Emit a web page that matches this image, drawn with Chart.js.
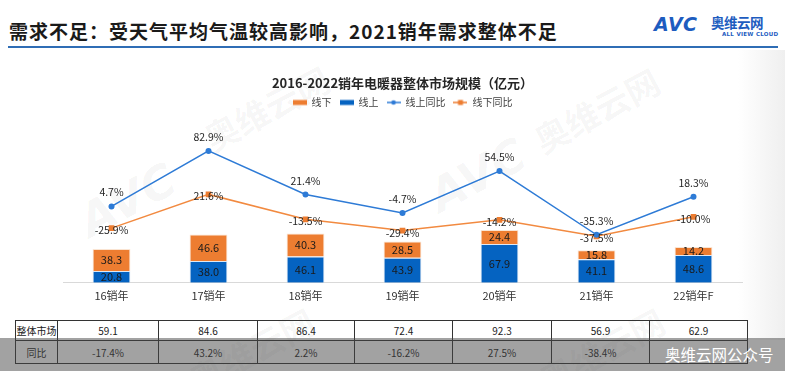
<!DOCTYPE html>
<html><head><meta charset="utf-8">
<script src="https://cdn.jsdelivr.net/npm/chart.js@4.4.1/dist/chart.umd.min.js"></script>
<style>
html,body{margin:0;padding:0;background:#fff;}
body{width:785px;height:371px;position:relative;overflow:hidden;font-family:"Noto Sans CJK SC","Noto Sans",sans-serif;}
#title{position:absolute;left:9px;top:17px;font-size:19px;font-weight:bold;color:#1a1a1a;white-space:nowrap;line-height:28px;letter-spacing:1px;}
#rule{position:absolute;left:8px;top:46px;width:770px;height:2px;background:#2f6db5;}
#logoA{position:absolute;left:654px;top:13px;font-family:"DejaVu Sans",sans-serif;font-size:19px;font-weight:bold;font-style:italic;color:#1d5cbf;letter-spacing:0.5px;line-height:22px;}
#logoB{position:absolute;left:711px;top:13px;font-size:13.5px;font-weight:bold;color:#1d5cbf;line-height:18px;letter-spacing:-0.5px;}
#logoC{position:absolute;left:722px;top:31px;font-family:"DejaVu Sans",sans-serif;font-size:5.5px;font-weight:bold;color:#1d5cbf;letter-spacing:0.3px;}
#edge{position:absolute;left:738px;top:50px;width:47px;height:290px;background:linear-gradient(to right,rgba(242,242,242,0),#efefef);}
#wrap{position:absolute;left:0;top:56px;width:785px;height:252px;}
table{position:absolute;left:15px;top:320px;border-collapse:collapse;font-size:10px;color:#222;table-layout:fixed;}
td{border:1px solid #333;text-align:center;padding:0;white-space:nowrap;}
tr.r1 td{height:19px;}
tr.r2 td{height:22px;}
#band{position:absolute;left:0;top:338px;width:785px;height:33px;background:rgba(70,70,70,0.5);}
#band span{position:absolute;left:665px;top:5px;font-size:15.5px;color:#fff;white-space:nowrap;}
.wm{position:absolute;color:rgba(0,0,0,0.045);white-space:nowrap;font-weight:bold;transform-origin:left top;}
</style></head>
<body>
<div class="wm" style="left:70px;top:200px;font-size:46px;font-family:'DejaVu Sans';font-style:italic;transform:rotate(-28deg);">AVC</div>
<div class="wm" style="left:420px;top:175px;font-size:46px;font-family:'DejaVu Sans';font-style:italic;transform:rotate(-28deg);">AVC</div>
<div class="wm" style="left:525px;top:120px;font-size:34px;transform:rotate(-28deg);">奥维云网</div>
<div class="wm" style="left:195px;top:118px;font-size:34px;transform:rotate(-28deg);">奥维云网</div>
<div class="wm" style="left:180px;top:360px;font-size:34px;transform:rotate(-28deg);">奥维云网</div>
<div class="wm" style="left:530px;top:360px;font-size:34px;transform:rotate(-28deg);">奥维云网</div>
<div id="title">需求不足：受天气平均气温较高影响，2021销年需求整体不足</div>
<div id="rule"></div>
<div id="logoA">AVC</div>
<div id="logoB">奥维云网</div>
<div id="logoC">ALL VIEW CLOUD</div>
<div id="edge"></div>
<div id="wrap"><canvas id="c" width="785" height="252"></canvas></div>
<table id="tbl"></table>
<div id="band"><span>奥维云网公众号</span></div>
<script>
const categories = ['16销年','17销年','18销年','19销年','20销年','21销年','22销年F'];
const offlineValues = [38.3, 46.6, 40.3, 28.5, 24.4, 15.8, 14.2];
const onlineValues  = [20.8, 38.0, 46.1, 43.9, 67.9, 41.1, 48.6];
const onlineYoY  = [4.7, 82.9, 21.4, -4.7, 54.5, -35.3, 18.3];
const offlineYoY = [-25.9, 21.6, -13.5, -29.4, -14.2, -37.5, -10.0];
const totalMarket = ['59.1','84.6','86.4','72.4','92.3','56.9','62.9'];
const totalYoY = ['-17.4%','43.2%','2.2%','-16.2%','27.5%','-38.4%',''];
const tableRowNames = ['整体市场','同比'];

const ORANGE = '#ED7D31', BLUE = '#0563C1', LBLUE = '#2E7BD6', LORANGE = '#F28A40';

(function(){
  const t = document.getElementById('tbl');
  const widths = [42,101,99,97,98,99,98,98];
  const cg = document.createElement('colgroup');
  widths.forEach(w=>{const c=document.createElement('col');c.style.width=w+'px';cg.appendChild(c);});
  t.appendChild(cg);
  [[tableRowNames[0]].concat(totalMarket),[tableRowNames[1]].concat(totalYoY)].forEach((row,ri)=>{
    const tr=document.createElement('tr'); tr.className='r'+(ri+1);
    row.forEach(v=>{const td=document.createElement('td');td.textContent=v;tr.appendChild(td);});
    t.appendChild(tr);
  });
})();

function makeIcon(kind,color){
  const c=document.createElement('canvas'); c.width=14; c.height=8;
  const g=c.getContext('2d');
  if(kind==='rect'){ g.fillStyle=color; g.fillRect(0,1.5,14,5); }
  else {
    g.strokeStyle=color; g.lineWidth=1.5; g.beginPath(); g.moveTo(0,4); g.lineTo(14,4); g.stroke();
    g.fillStyle=color;
    if(kind==='dot'){ g.beginPath(); g.arc(7,4,2.3,0,Math.PI*2); g.fill(); }
    else { g.fillRect(4.5,1.5,5,5); }
  }
  return c;
}

const valueLabels = {
  id:'valueLabels',
  afterDatasetsDraw(chart){
    const ctx = chart.ctx;
    chart.data.datasets.forEach((ds,i)=>{
      const meta = chart.getDatasetMeta(i);
      meta.data.forEach((el,j)=>{
        const v = ds.data[j];
        ctx.save();
        ctx.textAlign='center'; ctx.textBaseline='middle';
        if(ds.type==='bar'){
          const p = el.getProps(['x','y','base'],true);
          ctx.font='11px "Noto Sans CJK SC"'; ctx.fillStyle='#1a1a1a';
          ctx.fillText(v.toFixed(1), p.x, (p.y+p.base)/2);
        } else {
          ctx.font='10.5px "Noto Sans CJK SC"'; ctx.fillStyle='#262626';
          ctx.fillText(v.toFixed(1)+'%', el.x, el.y + ds.labelOffset);
        }
        ctx.restore();
      });
    });
  }
};

const chart = new Chart(document.getElementById('c'), {
  data:{
    labels: categories,
    datasets:[
      {type:'bar', label:'线上', data:onlineValues, backgroundColor:BLUE, borderColor:'rgba(220,230,242,0.9)', borderWidth:1, yAxisID:'y', order:1, barPercentage:0.39, categoryPercentage:1},
      {type:'bar', label:'线下', data:offlineValues, backgroundColor:ORANGE, borderColor:'rgba(250,225,205,0.9)', borderWidth:1, yAxisID:'y', order:1, barPercentage:0.39, categoryPercentage:1},
      {type:'line', label:'线上同比', data:onlineYoY, borderColor:LBLUE, backgroundColor:LBLUE, borderWidth:1.5, pointRadius:3, pointStyle:'circle', pointBorderWidth:0, yAxisID:'y2', order:0, labelOffset:-14, tension:0},
      {type:'line', label:'线下同比', data:offlineYoY, borderColor:LORANGE, backgroundColor:ORANGE, borderWidth:1.5, pointRadius:4, pointStyle:'rect', pointBorderWidth:0, yAxisID:'y2', order:0, labelOffset:2, tension:0}
    ]
  },
  options:{
    responsive:false, animation:false,
    layout:{padding:{left:63,right:43,top:0,bottom:0}},
    plugins:{
      tooltip:{enabled:false},
      title:{display:true, text:'2016-2022销年电暖器整体市场规模（亿元）', color:'#262626',
        font:{family:'"Noto Sans CJK SC"', size:13, weight:'bold', lineHeight:1}, padding:{top:20.5,bottom:0}},
      legend:{display:true, position:'top',
        labels:{usePointStyle:true, pointStyleWidth:14, padding:8, color:'#404040',
          font:{family:'"Noto Sans CJK SC"', size:10},
          generateLabels(ch){
            const d=ch.data.datasets;
            return [
              {text:d[1].label, pointStyle:makeIcon('rect',ORANGE), fillStyle:ORANGE, strokeStyle:ORANGE, lineWidth:0, hidden:false, datasetIndex:1, fontColor:'#404040'},
              {text:d[0].label, pointStyle:makeIcon('rect',BLUE), fillStyle:BLUE, strokeStyle:BLUE, lineWidth:0, hidden:false, datasetIndex:0, fontColor:'#404040'},
              {text:d[2].label, pointStyle:makeIcon('dot',LBLUE), fillStyle:LBLUE, strokeStyle:LBLUE, lineWidth:0, hidden:false, datasetIndex:2, fontColor:'#404040'},
              {text:d[3].label, pointStyle:makeIcon('sq',ORANGE), fillStyle:ORANGE, strokeStyle:ORANGE, lineWidth:0, hidden:false, datasetIndex:3, fontColor:'#404040'}
            ];
          }
        }
      }
    },
    scales:{
      x:{stacked:true, grid:{display:false, drawTicks:false}, border:{display:true,color:'#d9d9d9',width:1},
         ticks:{padding:6, color:'#333', font:{family:'"Noto Sans CJK SC"', size:11}}},
      y:{stacked:true, display:false, min:0, max:289},
      y2:{stacked:false, display:false, position:'right', min:-103, max:130}
    }
  },
  plugins:[valueLabels]
});
</script>
</body></html>
